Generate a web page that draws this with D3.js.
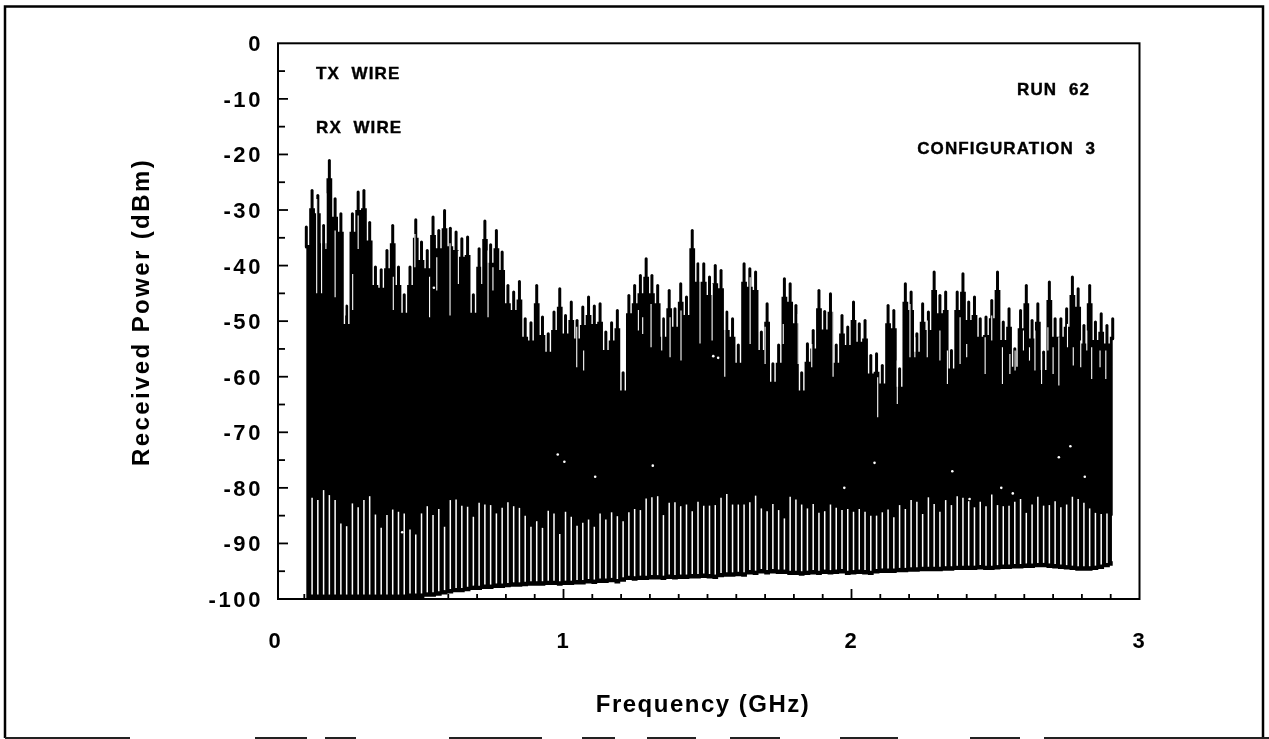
<!DOCTYPE html>
<html>
<head>
<meta charset="utf-8">
<script src="https://cdn.jsdelivr.net/npm/d3@7"></script>
<style>
  html, body { margin: 0; padding: 0; background: #fff; }
  svg { display: block; }
  text { font-family: "Liberation Sans", Arial, sans-serif; font-weight: bold; fill: #000; }
</style>
</head>
<body>
<svg id="chart" width="1269" height="739"></svg>
<script>
// upper edge of the trace, one value per 0.02 GHz starting near 0.107 GHz (dBm)
var topDb = [
  -32.8,-26.2,-27.1,-32.5,-20.8,-27.7,-30.4,-47,-30.4,-26.5,
  -26.2,-32,-40,-40.5,-37,-32.5,-40,-45,-40,-31.5,
  -35.5,-37,-31,-33.4,-29.8,-33,-33.7,-34.9,-34.6,-45,
  -36.7,-31.7,-36,-33.4,-37.3,-43.3,-44.5,-42.6,-49.3,-50,
  -43.3,-49,-52,-48.1,-43.9,-48.7,-46.3,-49.6,-47.2,-45.4,
  -47,-46.6,-51.7,-50,-47.8,-59,-45.1,-43.3,-41.5,-38.5,
  -41.5,-43.3,-49.3,-44.2,-47.5,-43,-45.4,-33.4,-39.4,-39.4,
  -41.8,-39.7,-40.6,-48.1,-49.3,-54,-39.4,-40.3,-40.9,-51.7,
  -46.6,-57.4,-54,-42.1,-43,-46.9,-59,-53.8,-51.4,-44.2,
  -48,-44.8,-54,-48.7,-50.8,-46.3,-50.2,-49.6,-55.9,-55.6,
  -57.7,-46.9,-47.8,-58.3,-43,-44.5,-52,-46.6,-48.1,-40.9,
  -45.1,-44.5,-55,-44.5,-41.2,-46.3,-45.4,-49.3,-49,-46,
  -40.9,-49.9,-47.5,-54.7,-47.8,-43.3,-49.6,-46.6,-55.3,-42.7,
  -49.3,-49.3,-47.5,-41.8,-43.9,-50.5,-43.3,-49.9,-48.4,-50.5,
  -49.3
];

// lower edge of the trace (dBm)
var bottomDb = [
  -100,-100,-100,-100,-100,-100,-100,-100,-100,-100,
  -100,-100,-100,-100,-100,-100,-100,-100,-99.8,-99.8,
  -99.8,-99.6,-99.6,-99.4,-99.2,-99,-98.8,-98.8,-98.6,-98.4,
  -98.4,-98.2,-98.2,-98,-98,-97.9,-97.8,-97.8,-97.7,-97.6,
  -97.6,-97.6,-97.5,-97.5,-97.6,-97.5,-97.5,-97.4,-97.4,-97.2,
  -97.3,-97.1,-97.1,-97,-97.2,-96.9,-96.6,-96.7,-96.6,-96.6,
  -96.5,-96.5,-96.6,-96.4,-96.5,-96.4,-96.4,-96.3,-96.3,-96.2,
  -96.3,-96.4,-96.1,-96,-96,-95.9,-96,-95.6,-95.7,-95.4,
  -95.6,-95.4,-95.5,-95.5,-95.7,-95.7,-95.8,-95.7,-95.6,-95.7,
  -95.5,-95.6,-95.5,-95.4,-95.7,-95.6,-95.5,-95.6,-95.7,-95.4,
  -95.3,-95.3,-95.3,-95.2,-95.2,-95.1,-95.1,-95,-95,-95,
  -95,-94.9,-94.9,-94.8,-94.8,-94.8,-94.8,-94.7,-94.8,-94.8,
  -94.7,-94.6,-94.6,-94.5,-94.5,-94.4,-94.4,-94.3,-94.3,-94.4,
  -94.5,-94.6,-94.7,-94.8,-94.9,-94.9,-94.9,-94.8,-94.6,-94.3,
  -94
];

// top of the long white gaps that reach down to the lower edge (dBm)
var gapTopDb = [
  -81.8,-82.2,-80.4,-81.3,-82.2,-86.4,-86.9,-82.8,-83.5,-82.2,
  -81.5,-84.8,-87.2,-84.9,-83.9,-84.3,-84.6,-87.5,-88.4,-84.6,
  -83.3,-84.9,-83.8,-87,-82.2,-82.1,-83.2,-83.4,-85.2,-82.7,
  -83,-83.1,-84.6,-83.6,-82.6,-83.3,-83.6,-85,-87,-86,
  -87.2,-84.1,-84.6,-88.3,-84.3,-85.2,-86.8,-86.3,-85.7,-87,
  -84.6,-85.7,-84.4,-85.1,-86,-84.4,-83.8,-84,-81.9,-81.7,
  -81.5,-84.9,-82.7,-82.6,-83.3,-83,-84.2,-82.5,-83.2,-83.2,
  -83.1,-81.8,-81.1,-83,-83,-83,-82.6,-81.4,-83.7,-84.2,
  -82.9,-84,-85.5,-81.6,-82.1,-83,-83.7,-82.9,-84.5,-84.2,
  -83,-83.6,-84,-83.8,-84.3,-83.8,-84.3,-85,-85,-84.4,
  -83.9,-85.3,-83.1,-83.8,-82.2,-82.5,-84.7,-81.7,-82.9,-84.3,
  -82.2,-83.1,-81.5,-81.8,-82.4,-83.5,-82.5,-83.3,-81.2,-83.1,
  -83.3,-83.2,-82.5,-82,-84.5,-83,-81.6,-83.2,-83.1,-82.4,
  -83.5,-83,-81.6,-82,-82.7,-83.7,-84.5,-84.7,-84.6,-85
];

// shorter white gaps higher up in the trace (GHz, dBm, dBm)
var slitGhz = [0.143,0.16,0.175,0.207,0.241,0.268,0.287,0.409,0.484,0.535,0.56,0.606,0.635,0.716,0.738,0.755,
  1.046,1.07,1.26,1.275,1.304,1.341,1.37,1.408,1.474,1.516,1.56,1.648,1.7,1.763,1.815,1.862,1.936,
  2.091,2.159,2.203,2.22,2.263,2.307,2.333,2.377,2.4,2.464,2.487,2.524,2.55,2.568,2.597,2.618,2.637,2.66,2.682,2.7,2.72,2.75,2.77,2.796,2.817,2.834,2.863,2.883];
var slitTopDb = [-28,-33,-27,-33.7,-44.5,-41.5,-31,-42,-34.3,-42,-38.5,-36,-37.3,-34.3,-37.3,-40.3,
  -51,-55.3,-48,-49.3,-46.9,-45.7,-49.3,-48.1,-39,-43.3,-48.1,-42.1,-51,-50.5,-48.7,-54.1,-45.1,
  -60.1,-57.1,-46.9,-52.9,-49.9,-51.7,-55.3,-49.3,-54.1,-52.9,-49,-54.7,-55.9,-55.3,-51.7,-54.7,-51.7,-55.9,-51.1,-54.7,-52.9,-50.5,-54.7,-53.5,-51.7,-54.7,-55.3,-55.3];
var slitBottomDb = [-45,-45,-37,-45.7,-49,-48,-37,-48,-40.3,-49.3,-44.5,-49,-43.3,-43.3,-49.3,-44.5,
  -58.3,-58.9,-51.7,-52.3,-54.7,-55.3,-56.5,-57.1,-54,-53.5,-60,-54.1,-57.7,-54.1,-57.7,-58.3,-60,
  -67.3,-64.9,-56.5,-56.5,-56.5,-57.1,-61.3,-57.7,-56.5,-59.5,-53.5,-61.3,-59.5,-58.9,-55.3,-57.1,-58.9,-61.3,-55.3,-59.5,-61.6,-54.7,-58,-58.3,-55.3,-60.4,-58.3,-60.4];

// isolated white specks inside the black mass
var speckGhz = [1.003,0.98,1.11,1.31,1.52,1.537,1.975,2.08,2.35,2.41,2.52,2.56,2.72,2.76,2.81,0.44,0.55];
var speckDb = [-75.3,-74,-78,-76,-56.3,-56.6,-80,-75.5,-77,-82,-80,-81,-74.5,-72.5,-78,-88,-44];

var tipDb = 3.5; // how far the narrow tip of a peak rises above its shoulder
var xTicks = d3.range(0, 3.01, 0.1);
var yTicks = d3.range(0, -101, -5);
var xLabels = [0, 1, 2, 3];
var yLabels = [0, -10, -20, -30, -40, -50, -60, -70, -80, -90, -100];
var notes = [
  {t: "TX  WIRE", x: 316, y: 79, a: "start"},
  {t: "RX  WIRE", x: 316, y: 133, a: "start"},
  {t: "RUN  62", x: 1090, y: 95, a: "end"},
  {t: "CONFIGURATION  3", x: 1096, y: 154, a: "end"}
];

var svg = d3.select("#chart");
var x = d3.scaleLinear().domain([0, 3]).range([275.5, 1139.5]);
var y = d3.scaleLinear().domain([0, -100]).range([43.3, 599]);
var freq = topDb.map(function(d, i) { return 0.107 + i * 0.02; });

// scanned look
var defs = svg.append("defs");
defs.append("filter").attr("id", "soft").append("feGaussianBlur").attr("stdDeviation", 0.6);
var g = svg.append("g").attr("filter", "url(#soft)");

// outer box, bottom edge is broken up in the scan
g.append("path").attr("d", "M5,738V6.5H1263V738").attr("fill", "none").attr("stroke", "#000").attr("stroke-width", 2.5);
g.append("line").attr("x1", 5).attr("x2", 1269).attr("y1", 738).attr("y2", 738)
  .attr("stroke", "#222").attr("stroke-width", 2)
  .attr("stroke-dasharray", "125,125,52,18,31,93,93,40,33,32,49,34,50,60,58,72,50,24,225");

// trace: stepped shoulders with a narrow tip on every sample
var mass = d3.area().curve(d3.curveStep)
  .x(function(d, i) { return x(freq[i]); })
  .y0(function(d, i) { return y(bottomDb[i]); })
  .y1(function(d) { return y(d - tipDb); });
g.append("path").datum(topDb).attr("d", mass).attr("fill", "#000");

g.selectAll("line.stick").data(topDb).enter().append("line").attr("class", "stick")
  .attr("x1", function(d, i) { return x(freq[i]); })
  .attr("x2", function(d, i) { return x(freq[i]); })
  .attr("y1", function(d) { return y(d) + 1.5; })
  .attr("y2", function(d) { return y(d - tipDb) + 2; })
  .attr("stroke", "#000").attr("stroke-width", 3).attr("stroke-linecap", "round");

g.selectAll("line.gap").data(gapTopDb).enter().append("line").attr("class", "gap")
  .attr("x1", function(d, i) { return x(freq[i + 1]); })
  .attr("x2", function(d, i) { return x(freq[i + 1]); })
  .attr("y1", function(d) { return y(d); })
  .attr("y2", function(d, i) { return y(bottomDb[i + 1] + 0.8); })
  .attr("stroke", "#fff").attr("stroke-width", 1.5);

g.selectAll("line.slit").data(slitGhz).enter().append("line").attr("class", "slit")
  .attr("x1", function(d) { return x(d); })
  .attr("x2", function(d) { return x(d); })
  .attr("y1", function(d, i) { return y(slitTopDb[i]); })
  .attr("y2", function(d, i) { return y(slitBottomDb[i]); })
  .attr("stroke", "#fff").attr("stroke-width", 1.1);

g.selectAll("circle.speck").data(speckGhz).enter().append("circle").attr("class", "speck")
  .attr("cx", function(d) { return x(d); })
  .attr("cy", function(d, i) { return y(speckDb[i]); })
  .attr("r", 1.3).attr("fill", "#fff");

// plot frame
g.append("rect").attr("x", 278).attr("y", y(0)).attr("width", x(3) - 278).attr("height", y(-100) - y(0))
  .attr("fill", "none").attr("stroke", "#000").attr("stroke-width", 2);

// ticks point inward, long on the labelled ones
g.selectAll("line.ytick").data(yTicks.slice(1, -1)).enter().append("line").attr("class", "ytick")
  .attr("x1", 278)
  .attr("x2", function(d) { return d % 10 === 0 ? 288 : 285; })
  .attr("y1", function(d) { return y(d); }).attr("y2", function(d) { return y(d); })
  .attr("stroke", "#000").attr("stroke-width", 1.8);

g.selectAll("line.xtick").data(xTicks.slice(1, -1)).enter().append("line").attr("class", "xtick")
  .attr("x1", function(d) { return x(d); }).attr("x2", function(d) { return x(d); })
  .attr("y1", y(-100))
  .attr("y2", function(d, i) { return y(-100) - ((i + 1) % 10 === 0 ? 10 : 5); })
  .attr("stroke", "#000").attr("stroke-width", 1.8);

g.selectAll("text.ylab").data(yLabels).enter().append("text").attr("class", "ylab")
  .attr("x", 263).attr("y", function(d) { return y(d) + 8; })
  .attr("text-anchor", "end").attr("font-size", 22).attr("letter-spacing", 2.6)
  .text(function(d) { return d; });

g.selectAll("text.xlab").data(xLabels).enter().append("text").attr("class", "xlab")
  .attr("x", function(d) { return x(d) - 1; }).attr("y", 648)
  .attr("text-anchor", "middle").attr("font-size", 22)
  .text(function(d) { return d; });

g.append("text").attr("x", 703).attr("y", 712).attr("text-anchor", "middle")
  .attr("font-size", 24).attr("letter-spacing", 1.5).text("Frequency (GHz)");

g.append("text").attr("transform", "translate(149,312) rotate(-90)").attr("text-anchor", "middle")
  .attr("font-size", 24).attr("letter-spacing", 2.4).text("Received Power (dBm)");

g.selectAll("text.note").data(notes).enter().append("text").attr("class", "note")
  .attr("x", function(d) { return d.x; }).attr("y", function(d) { return d.y; })
  .attr("text-anchor", function(d) { return d.a; })
  .attr("font-size", 17).attr("letter-spacing", 1.1)
  .attr("stroke", "#000").attr("stroke-width", 0.4)
  .style("white-space", "pre")
  .text(function(d) { return d.t; });
</script>
</body>
</html>
